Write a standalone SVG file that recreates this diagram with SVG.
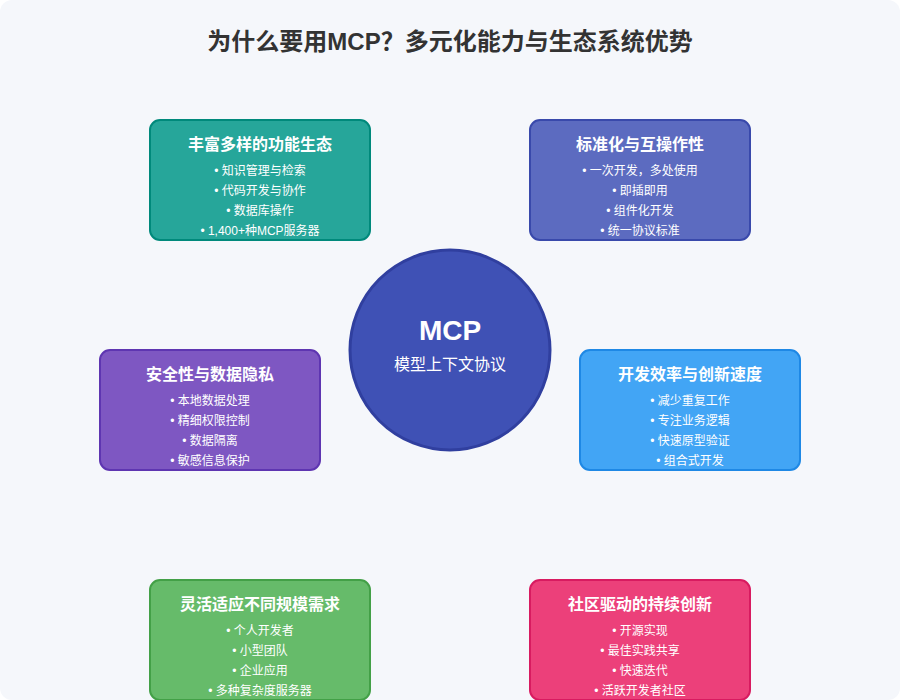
<svg xmlns="http://www.w3.org/2000/svg" width="900" height="700" viewBox="0 0 900 700">
<style>
text{font-family:"Liberation Sans","Noto Sans CJK SC",sans-serif;text-anchor:middle;}
.title{font-size:24px;font-weight:bold;fill:#333333;}
.bt{font-size:16px;font-weight:bold;fill:#ffffff;}
.it{font-size:12px;fill:#ffffff;}
.box{stroke-width:2;}
</style>
<rect x="0" y="0" width="900" height="700" rx="12" fill="#f5f7fb"/>
<text class="title" x="450" y="50">为什么要用MCP？多元化能力与生态系统优势</text>
<g id="connectors"></g>
<g id="center">
<circle cx="450" cy="350" r="100" fill="#3f51b5" stroke="#303f9f" stroke-width="3"/>
<text x="450" y="340" font-size="28" font-weight="bold" fill="#fff">MCP</text>
<text x="450" y="370" font-size="16" fill="#fff">模型上下文协议</text>
</g>
<g id="ecosystem">
<rect class="box" x="150" y="120" width="220" height="120" rx="10" fill="#26a69a" stroke="#00897b"/>
<text class="bt" x="260" y="150">丰富多样的功能生态</text>
<text class="it" x="260" y="175">• 知识管理与检索</text>
<text class="it" x="260" y="195">• 代码开发与协作</text>
<text class="it" x="260" y="215">• 数据库操作</text>
<text class="it" x="260" y="235">• 1,400+种MCP服务器</text>
</g>
<g id="standard">
<rect class="box" x="530" y="120" width="220" height="120" rx="10" fill="#5c6bc0" stroke="#3949ab"/>
<text class="bt" x="640" y="150">标准化与互操作性</text>
<text class="it" x="640" y="175">• 一次开发，多处使用</text>
<text class="it" x="640" y="195">• 即插即用</text>
<text class="it" x="640" y="215">• 组件化开发</text>
<text class="it" x="640" y="235">• 统一协议标准</text>
</g>
<g id="security">
<rect class="box" x="100" y="350" width="220" height="120" rx="10" fill="#7e57c2" stroke="#5e35b1"/>
<text class="bt" x="210" y="380">安全性与数据隐私</text>
<text class="it" x="210" y="405">• 本地数据处理</text>
<text class="it" x="210" y="425">• 精细权限控制</text>
<text class="it" x="210" y="445">• 数据隔离</text>
<text class="it" x="210" y="465">• 敏感信息保护</text>
</g>
<g id="efficiency">
<rect class="box" x="580" y="350" width="220" height="120" rx="10" fill="#42a5f5" stroke="#1e88e5"/>
<text class="bt" x="690" y="380">开发效率与创新速度</text>
<text class="it" x="690" y="405">• 减少重复工作</text>
<text class="it" x="690" y="425">• 专注业务逻辑</text>
<text class="it" x="690" y="445">• 快速原型验证</text>
<text class="it" x="690" y="465">• 组合式开发</text>
</g>
<g id="scale">
<rect class="box" x="150" y="580" width="220" height="120" rx="10" fill="#66bb6a" stroke="#43a047"/>
<text class="bt" x="260" y="610">灵活适应不同规模需求</text>
<text class="it" x="260" y="635">• 个人开发者</text>
<text class="it" x="260" y="655">• 小型团队</text>
<text class="it" x="260" y="675">• 企业应用</text>
<text class="it" x="260" y="695">• 多种复杂度服务器</text>
</g>
<g id="community">
<rect class="box" x="530" y="580" width="220" height="120" rx="10" fill="#ec407a" stroke="#d81b60"/>
<text class="bt" x="640" y="610">社区驱动的持续创新</text>
<text class="it" x="640" y="635">• 开源实现</text>
<text class="it" x="640" y="655">• 最佳实践共享</text>
<text class="it" x="640" y="675">• 快速迭代</text>
<text class="it" x="640" y="695">• 活跃开发者社区</text>
</g>
</svg>
